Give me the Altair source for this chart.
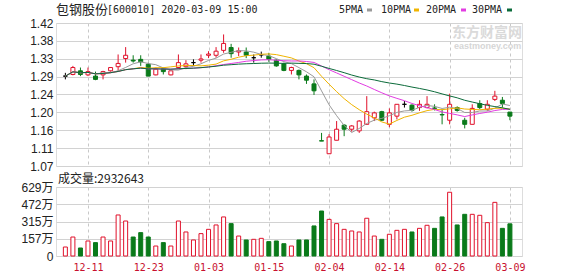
import altair as alt
import pandas as pd

# ---------------- data ----------------
dates = ['12-06', '12-09', '12-10', '12-11', '12-12', '12-13', '12-16', '12-17', '12-18', '12-19',
         '12-20', '12-23', '12-24', '12-25', '12-26', '12-27', '12-30', '12-31', '01-02', '01-03',
         '01-06', '01-07', '01-08', '01-09', '01-10', '01-13', '01-14', '01-15', '01-16', '01-17',
         '01-20', '01-21', '01-22', '01-23', '02-03', '02-04', '02-05', '02-06', '02-07', '02-10',
         '02-11', '02-12', '02-13', '02-14', '02-17', '02-18', '02-19', '02-20', '02-21', '02-24',
         '02-25', '02-26', '02-27', '02-28', '03-02', '03-03', '03-04', '03-05', '03-06', '03-09']

opens = [1.290, 1.294, 1.303, 1.293, 1.290, 1.293, 1.303, 1.313, 1.333, 1.329,
         1.331, 1.319, 1.293, 1.308, 1.293, 1.311, 1.313, 1.323, 1.329, 1.341,
         1.341, 1.353, 1.360, 1.349, 1.349, 1.335, 1.342, 1.339, 1.329, 1.320,
         1.304, 1.304, 1.290, 1.271, 1.132, 1.100, 1.133, 1.170, 1.160, 1.156,
         1.172, 1.188, 1.203, 1.172, 1.192, 1.221, 1.219, 1.213, 1.213, 1.212,
         1.196, 1.182, 1.213, 1.182, 1.172, 1.223, 1.209, 1.233, 1.231, 1.202]
highs = [1.298, 1.315, 1.311, 1.311, 1.301, 1.303, 1.311, 1.343, 1.361, 1.341,
         1.341, 1.323, 1.311, 1.311, 1.303, 1.343, 1.329, 1.331, 1.343, 1.351,
         1.361, 1.392, 1.369, 1.360, 1.360, 1.343, 1.350, 1.347, 1.331, 1.323,
         1.313, 1.306, 1.294, 1.282, 1.151, 1.148, 1.180, 1.172, 1.170, 1.182,
         1.241, 1.203, 1.205, 1.211, 1.221, 1.229, 1.221, 1.231, 1.241, 1.221,
         1.209, 1.247, 1.216, 1.188, 1.221, 1.231, 1.231, 1.254, 1.239, 1.202]
lows = [1.282, 1.292, 1.290, 1.290, 1.280, 1.282, 1.301, 1.303, 1.323, 1.323,
        1.315, 1.290, 1.292, 1.294, 1.292, 1.307, 1.307, 1.315, 1.323, 1.334,
        1.335, 1.347, 1.335, 1.339, 1.334, 1.323, 1.335, 1.325, 1.313, 1.302,
        1.294, 1.282, 1.271, 1.244, 1.131, 1.100, 1.133, 1.143, 1.154, 1.151,
        1.172, 1.180, 1.180, 1.165, 1.184, 1.213, 1.203, 1.205, 1.211, 1.206,
        1.172, 1.172, 1.203, 1.162, 1.172, 1.209, 1.205, 1.229, 1.213, 1.182]
closes = [1.290, 1.311, 1.294, 1.301, 1.282, 1.301, 1.311, 1.321, 1.341, 1.327,
          1.325, 1.290, 1.307, 1.301, 1.303, 1.323, 1.320, 1.323, 1.332, 1.344,
          1.351, 1.370, 1.345, 1.352, 1.341, 1.335, 1.342, 1.331, 1.315, 1.304,
          1.311, 1.293, 1.280, 1.254, 1.131, 1.141, 1.160, 1.160, 1.168, 1.180,
          1.203, 1.200, 1.182, 1.200, 1.221, 1.221, 1.206, 1.221, 1.221, 1.211,
          1.195, 1.221, 1.206, 1.172, 1.211, 1.213, 1.221, 1.241, 1.223, 1.192]
# volume in 万 (10k shares)
volumes = [82, 173, 73, 137, 122, 173, 137, 374, 319, 173,
           213, 173, 91, 122, 91, 319, 219, 146, 204, 243,
           283, 356, 295, 182, 146, 152, 161, 131, 137, 112,
           91, 146, 146, 274, 410, 334, 295, 243, 228, 219,
           344, 182, 152, 198, 234, 243, 219, 252, 280, 252,
           356, 581, 283, 380, 380, 371, 304, 489, 252, 293.2643]
# 1 = red (up) volume bar, 0 = green (down)
vol_up = [1, 1, 0, 1, 0, 1, 1, 1, 1, 0,
          0, 0, 1, 0, 1, 1, 1, 1, 1, 1,
          1, 1, 0, 1, 0, 1, 1, 0, 0, 0,
          1, 0, 0, 0, 0, 1, 1, 1, 1, 1,
          1, 1, 0, 1, 1, 1, 0, 1, 1, 0,
          0, 1, 0, 0, 1, 1, 1, 1, 0, 0]

tick_idx = [3, 11, 19, 27, 35, 43, 51, 59]
price_ticks = ['1.07', '1.11', '1.16', '1.20', '1.24', '1.29', '1.33', '1.38', '1.42']
vol_ticks = ['0', '157万', '315万', '472万', '629万']
ma_keys = ['m5', 'm10', 'm20', 'm30']
ma_names = ['5PMA', '10PMA', '20PMA', '30PMA']
ma_windows = [5, 10, 20, 30]
ma_colors = ['#9a9a9a', '#f0b400', '#e23ce2', '#0b6b3a']
title_name = '包钢股份'
title_rest = '[600010] 2020-03-09 15:00'
vol_label = '成交量:2932643'

# ---------------- styling ----------------
RED = '#e0102a'
GREEN = '#0a7a1a'
GRID = '#d2d2d2'
DGRID = '#c8c8c8'
DATE_RED = '#c8102e'
W = 466

df = pd.DataFrame({
    'i': list(range(len(dates))), 'date': dates,
    'open': opens, 'high': highs, 'low': lows, 'close': closes,
    'vol': [v * 10000 for v in volumes],
    'vdir': ['up' if u else 'down' for u in vol_up],
})

PMIN, PMAX = 1.07, 1.42
step = (PMAX - PMIN) / 8
pvals = [PMIN + k * step for k in range(9)]
pexpr = "[" + ",".join(f"'{t}'" for t in price_ticks) + f"][round((datum.value-{PMIN})/{step})]"
VMAX = 6290000
vvals = [VMAX * k / 4 for k in range(5)]
vexpr = "[" + ",".join(f"'{t}'" for t in vol_ticks) + f"][round(datum.value/{VMAX / 4})]"
dexpr = "[" + ",".join(f"'{d}'" for d in dates) + "][round(datum.value)]"

xscale = alt.Scale(domain=[-0.58, 59.94], nice=False, zero=False)
yscale = alt.Scale(domain=[PMIN, PMAX], nice=False, zero=False)
dir_domain = ['up', 'down', 'flat']

x_axis_top = alt.Axis(values=tick_idx, labels=False, ticks=False, domain=False,
                      grid=True, gridDash=[3, 3], gridColor=DGRID, title=None)
y_axis_top = alt.Axis(values=pvals, labelExpr=pexpr, labelFont='Liberation Sans',
                      labelFontSize=12, labelColor='#222', labelPadding=3, ticks=False,
                      domain=False, grid=True, gridColor=GRID, title=None)


def xt():
    return alt.X('i:Q', scale=xscale, axis=x_axis_top)


def yt(field):
    return alt.Y(field, scale=yscale, axis=y_axis_top)


one = pd.DataFrame({'k': [0]})

watermark1 = alt.Chart(one).mark_text(
    text='东方财富网', align='left', baseline='middle', font='Noto Sans CJK SC',
    fontSize=14, fontWeight='bold', color='#dadada').encode(x=alt.value(396), y=alt.value(9.5))
watermark2 = alt.Chart(one).mark_text(
    text='eastmoney.com', align='left', baseline='middle', font='Liberation Sans',
    fontSize=9, fontWeight='bold', color='#d6d6d6').encode(x=alt.value(398), y=alt.value(23))

candle_base = alt.Chart(df).transform_calculate(
    dir="datum.close > datum.open ? 'up' : (datum.close < datum.open ? 'down' : 'flat')")

wicks = candle_base.mark_rule(strokeWidth=1).encode(
    x=xt(),
    y=yt('low:Q'),
    y2='high:Q',
    stroke=alt.Stroke('dir:N', scale=alt.Scale(domain=dir_domain, range=[RED, GREEN, '#000000']),
                      legend=None),
)
bodies = candle_base.mark_bar(size=4, strokeWidth=1).encode(
    x=xt(),
    y=yt('open:Q'),
    y2='close:Q',
    fill=alt.Fill('dir:N', scale=alt.Scale(domain=dir_domain, range=['#ffffff', GREEN, '#000000']),
                  legend=None),
    stroke=alt.Stroke('dir:N', scale=alt.Scale(domain=dir_domain, range=[RED, GREEN, '#000000']),
                      legend=None),
)

ma_chart = alt.Chart(df)
for k, w in zip(ma_keys, ma_windows):
    ma_chart = ma_chart.transform_window(frame=[-(w - 1), 0], sort=[alt.SortField('i')],
                                         **{k: 'mean(close)'})
ma_lines = ma_chart.transform_fold(ma_keys, as_=['ma', 'val']).mark_line(strokeWidth=1).encode(
    x=xt(),
    y=yt('val:Q'),
    color=alt.Color('ma:N', scale=alt.Scale(domain=ma_keys, range=ma_colors), legend=None),
    detail='ma:N',
)

title1 = alt.Chart(one).mark_text(
    text=title_name, align='left', baseline='middle', font='Noto Sans CJK SC',
    fontSize=13, color='#222').encode(x=alt.value(0), y=alt.value(-13))
title2 = alt.Chart(one).mark_text(
    text=title_rest, align='left', baseline='middle', font='DejaVu Sans Mono',
    fontSize=10, color='#222').encode(x=alt.value(51), y=alt.value(-13))

legend_text_x = [283, 325, 370, 416]
legend_dash_x = [311, 358, 405, 451]
legend_layers = []
for name, col, tx, dx in zip(ma_names, ma_colors, legend_text_x, legend_dash_x):
    legend_layers.append(alt.Chart(one).mark_text(
        text=name, align='left', baseline='middle', font='DejaVu Sans Mono',
        fontSize=10, color='#222').encode(x=alt.value(tx), y=alt.value(-13)))
    legend_layers.append(alt.Chart(one).mark_rule(strokeWidth=3, color=col).encode(
        x=alt.value(dx), x2=alt.value(dx + 5), y=alt.value(-13)))

top = alt.layer(wicks, watermark1, watermark2, bodies, ma_lines, title1, title2,
                *legend_layers).resolve_scale(
    color='independent', fill='independent', stroke='independent'
).properties(width=W, height=143)

vol_bars = alt.Chart(df).mark_bar(size=4, strokeWidth=1).encode(
    x=alt.X('i:Q', scale=xscale,
            axis=alt.Axis(values=tick_idx, labelExpr=dexpr, labelFont='DejaVu Sans Mono',
                          labelFontSize=10, labelColor=DATE_RED, labelPadding=6, ticks=False,
                          domain=False, grid=True, gridDash=[3, 3], gridColor=DGRID,
                          labelFlush=False, title=None)),
    y=alt.Y('vol:Q', scale=alt.Scale(domain=[0, VMAX], nice=False),
            axis=alt.Axis(values=vvals, labelExpr=vexpr,
                          labelFont='Liberation Sans, Noto Sans CJK SC',
                          labelFontSize=12, labelColor='#222', labelPadding=3, ticks=False,
                          domain=False, grid=True, gridColor=GRID, title=None)),
    fill=alt.Fill('vdir:N', scale=alt.Scale(domain=['up', 'down'], range=['#ffffff', GREEN]),
                  legend=None),
    stroke=alt.Stroke('vdir:N', scale=alt.Scale(domain=['up', 'down'], range=[RED, GREEN]),
                      legend=None),
)
vol_title = alt.Chart(one).mark_text(
    text=vol_label, align='left', baseline='middle', font='Noto Sans CJK SC',
    fontSize=12, color='#222').encode(x=alt.value(2), y=alt.value(-8))

bottom = alt.layer(vol_bars, vol_title).properties(width=W, height=69)

chart = alt.vconcat(top, bottom, spacing=21, bounds='flush').resolve_scale(
    fill='independent', stroke='independent', color='independent'
).properties(
    padding={'left': 20, 'top': 3, 'right': 0, 'bottom': 0}
).configure_view(stroke='#a0a0a0', strokeWidth=1).configure(background='white')

chart.save("out.html", embed_options={"renderer": "svg", "actions": False})
